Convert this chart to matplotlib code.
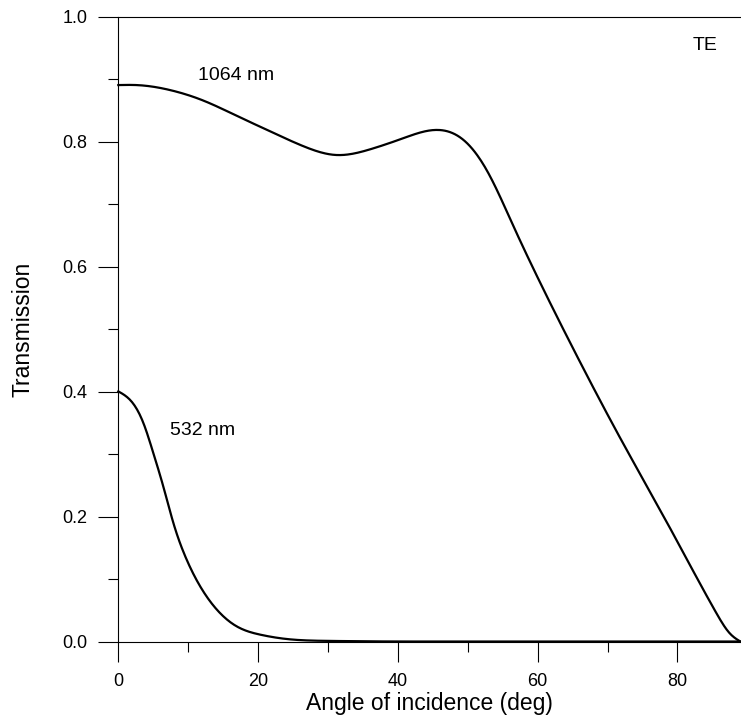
# transmission vs angle of incidence, TE polarisation

import matplotlib as mpl
mpl.use('Agg')
import matplotlib.pyplot as plt
from matplotlib.ticker import MultipleLocator
import numpy as np

plt.rcParams['font.family'] = ['Liberation Sans', 'DejaVu Sans']

# 1064 nm curve
angle_1064 = [0, 2.6, 7.4, 12.2, 16.9, 21.7, 26.5, 31.2, 36.0, 40.8, 46.0,
              49.4, 52.7, 56.5, 60.3, 66.0, 72.0, 78.0, 82.3, 85.5, 87.5, 89.0]
trans_1064 = [0.891, 0.891, 0.883, 0.866, 0.842, 0.817, 0.793, 0.779, 0.788,
              0.806, 0.819, 0.803, 0.755, 0.666, 0.576, 0.449, 0.322, 0.201,
              0.112, 0.047, 0.013, 0.0]

# 532 nm curve
angle_532 = [0, 1.67, 3.58, 5.0, 6.44, 7.87, 9.78, 11.7, 14.1, 16.9, 20.3,
             24.1, 30, 40, 60, 89]
trans_532 = [0.4005, 0.387, 0.350, 0.302, 0.248, 0.190, 0.131, 0.0885, 0.051,
             0.0245, 0.011, 0.004, 0.001, 0.0, 0.0, 0.0]


def spline(xp, yp, n=500):
  # natural cubic spline through the read points, just to draw a smooth line
  xp = np.asarray(xp, float)
  yp = np.asarray(yp, float)
  N = len(xp)
  h = np.diff(xp)
  A = np.zeros((N, N))
  r = np.zeros(N)
  A[0, 0] = 1
  A[-1, -1] = 1
  for i in range(1, N - 1):
    A[i, i - 1] = h[i - 1]
    A[i, i] = 2 * (h[i - 1] + h[i])
    A[i, i + 1] = h[i]
    r[i] = 6 * ((yp[i + 1] - yp[i]) / h[i] - (yp[i] - yp[i - 1]) / h[i - 1])
  M = np.linalg.solve(A, r)
  xs = np.linspace(xp[0], xp[-1], n)
  k = np.clip(np.searchsorted(xp, xs) - 1, 0, N - 2)
  a = xp[k + 1] - xs
  b = xs - xp[k]
  ys = (M[k] * a**3 + M[k + 1] * b**3) / (6 * h[k]) \
       + (yp[k] / h[k] - M[k] * h[k] / 6) * a \
       + (yp[k + 1] / h[k] - M[k + 1] * h[k] / 6) * b
  return xs, np.clip(ys, 0, None)


fig = plt.figure(figsize=(7.41, 7.23), dpi=100)
ax = fig.add_axes([0.1597, 0.1127, 0.8403, 0.8638])

x1, y1 = spline(angle_1064, trans_1064)
x2, y2 = spline(angle_532, trans_532)
ax.plot(x1, y1, color='black', linewidth=1.6, clip_on=False)
ax.plot(x2, y2, color='black', linewidth=1.6, clip_on=False)

ax.text(16.8, 0.907, '1064 nm', fontsize=14, ha='center', va='center')
ax.text(12.0, 0.338, '532 nm', fontsize=14, ha='center', va='center')
ax.text(83.9, 0.954, 'TE', fontsize=14, ha='center', va='center')

ax.set_xlim(0, 89.1)
ax.set_ylim(0, 1.0)
ax.xaxis.set_major_locator(MultipleLocator(20))
ax.xaxis.set_minor_locator(MultipleLocator(10))
ax.yaxis.set_major_locator(MultipleLocator(0.2))
ax.yaxis.set_minor_locator(MultipleLocator(0.1))
ax.yaxis.set_major_formatter(mpl.ticker.FormatStrFormatter('%.1f'))

ax.tick_params(which='major', direction='out', length=14.4, width=0.8, labelsize=13, pad=8)
ax.tick_params(which='minor', direction='out', length=7.2, width=0.8)
ax.tick_params(top=False, right=False)

ax.spines['right'].set_visible(False)
for s in ['left', 'bottom', 'top']:
  ax.spines[s].set_linewidth(0.8)

ax.set_xlabel('Angle of incidence (deg)', fontsize=16.5, labelpad=2)
ax.set_ylabel('Transmission', fontsize=16.5, labelpad=20)

plt.savefig('out.png', dpi=100)
plt.close()
